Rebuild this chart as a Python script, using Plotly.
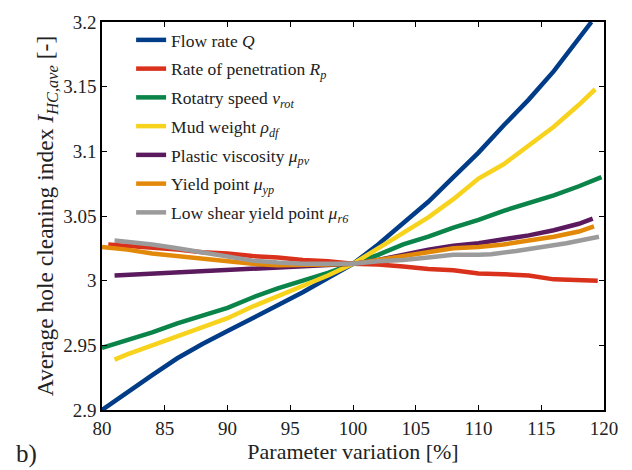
import plotly.graph_objects as go

# Sensitivity of the average hole cleaning index to each drilling parameter
flow_x = [80, 82, 84, 86, 88, 90, 92, 94, 96, 98, 100, 102, 104, 106, 108, 110, 112, 114, 116, 118, 119]
flow_y = [2.900, 2.914, 2.927, 2.940, 2.951, 2.961, 2.971, 2.981, 2.991, 3.002, 3.013,
          3.028, 3.044, 3.061, 3.080, 3.099, 3.120, 3.140, 3.162, 3.187, 3.200]

rop_x = [80.5, 82, 84, 86, 88, 90, 92, 94, 96, 98, 100, 102, 104, 106, 108, 110, 112, 114, 116, 118, 119.5]
rop_y = [3.028, 3.027, 3.026, 3.024, 3.022, 3.021, 3.019, 3.018, 3.016, 3.015, 3.013,
         3.0125, 3.011, 3.009, 3.008, 3.0055, 3.005, 3.004, 3.001, 3.0005, 3.000]

rot_x = [80, 82, 84, 86, 88, 90, 92, 94, 96, 98, 100, 102, 104, 106, 108, 110, 112, 114, 116, 118, 119.8]
rot_y = [2.948, 2.954, 2.960, 2.967, 2.973, 2.979, 2.987, 2.994, 3.000, 3.006, 3.013,
         3.020, 3.028, 3.034, 3.041, 3.047, 3.054, 3.060, 3.066, 3.073, 3.080]

mud_x = [81, 82, 84, 86, 88, 90, 92, 94, 96, 98, 100, 102, 104, 106, 108, 110, 112, 114, 116, 118, 119.3]
mud_y = [2.939, 2.943, 2.950, 2.957, 2.964, 2.971, 2.980, 2.988, 2.996, 3.004, 3.013,
         3.025, 3.036, 3.049, 3.063, 3.079, 3.090, 3.104, 3.119, 3.136, 3.148]

pv_x = [81, 83, 85, 87, 89, 91, 93, 95, 97, 100, 102, 104, 106, 108, 110, 112, 114, 116, 118, 119.1]
pv_y = [3.004, 3.005, 3.006, 3.007, 3.008, 3.009, 3.010, 3.011, 3.012, 3.013,
        3.016, 3.020, 3.024, 3.027, 3.029, 3.032, 3.035, 3.039, 3.044, 3.048]

yp_x = [80, 82, 84, 86, 88, 90, 92, 94, 96, 98, 100, 102, 104, 106, 108, 110, 112, 114, 116, 118, 119.2]
yp_y = [3.026, 3.024, 3.021, 3.019, 3.017, 3.015, 3.013, 3.012, 3.012, 3.0125, 3.013,
        3.016, 3.019, 3.022, 3.025, 3.026, 3.028, 3.031, 3.034, 3.038, 3.042]

lsyp_x = [81, 82, 83, 84, 86, 88, 90, 92, 94, 96, 98, 100, 102, 104, 106, 108, 110, 111, 113, 115, 117, 119.6]
lsyp_y = [3.031, 3.030, 3.0295, 3.028, 3.025, 3.022, 3.019, 3.0155, 3.014, 3.013, 3.013, 3.013,
          3.015, 3.016, 3.018, 3.020, 3.020, 3.0205, 3.023, 3.026, 3.029, 3.034]

series = [
    ("Flow rate <i>Q</i>", flow_x, flow_y, "#003C87"),
    ("Rate of penetration <i>R</i><sub><i>p</i></sub>", rop_x, rop_y, "#D9311B"),
    ("Rotatry speed <i>v</i><sub><i>rot</i></sub>", rot_x, rot_y, "#0A8449"),
    ("Mud weight <i>ρ</i><sub><i>df</i></sub>", mud_x, mud_y, "#F7D31E"),
    ("Plastic viscosity <i>μ</i><sub><i>pv</i></sub>", pv_x, pv_y, "#5C1A5E"),
    ("Yield point <i>μ</i><sub><i>yp</i></sub>", yp_x, yp_y, "#E3890A"),
    ("Low shear yield point <i>μ</i><sub><i>r6</i></sub>", lsyp_x, lsyp_y, "#9B9B9B"),
]

x_ticks = [80, 85, 90, 95, 100, 105, 110, 115, 120]
y_ticks = [2.9, 2.95, 3.0, 3.05, 3.1, 3.15, 3.2]
y_tick_text = ["2.9", "2.95", "3", "3.05", "3.1", "3.15", "3.2"]

SERIF = "Liberation Serif, Times New Roman, serif"
INK = "#222"

fig = go.Figure()
for i, (name, xs, ys, color) in enumerate(series):
    fig.add_trace(go.Scatter(
        x=xs, y=ys, name=name, mode="lines",
        line=dict(color=color, width=4.5),
        legendgroup=f"g{i}",
    ))

axis_common = dict(
    showline=True, linecolor="black", linewidth=1.5, mirror="ticks",
    ticks="inside", ticklen=5, tickcolor="black", tickwidth=1,
    showgrid=False, zeroline=False,
    tickfont=dict(family=SERIF, size=19, color=INK),
)

fig.update_layout(
    width=632, height=470,
    margin=dict(l=102, r=28, t=15, b=60),
    paper_bgcolor="white", plot_bgcolor="white",
    showlegend=True,
    legend=dict(
        x=0.058, y=1.0, xanchor="left", yanchor="top",
        bgcolor="rgba(0,0,0,0)",
        font=dict(family=SERIF, size=17.5, color=INK),
        tracegroupgap=3,
    ),
    xaxis=dict(range=[80, 120], tickvals=x_ticks,
               title=dict(text="Parameter variation [%]", font=dict(family=SERIF, size=22, color=INK), standoff=2),
               **axis_common),
    yaxis=dict(range=[2.9, 3.2], tickvals=y_ticks, ticktext=y_tick_text,
               title=dict(text="Average hole cleaning index <i>I</i><sub><i>HC,ave</i></sub> [-]",
                          font=dict(family=SERIF, size=23.5, color=INK), standoff=3),
               **axis_common),
    annotations=[dict(text="b)", x=(14 - 102) / 502, y=(410 - 455) / 395,
                      xref="paper", yref="paper", xanchor="left", yanchor="middle",
                      showarrow=False, font=dict(family=SERIF, size=25, color=INK))],
)

fig.write_html("out.html")
